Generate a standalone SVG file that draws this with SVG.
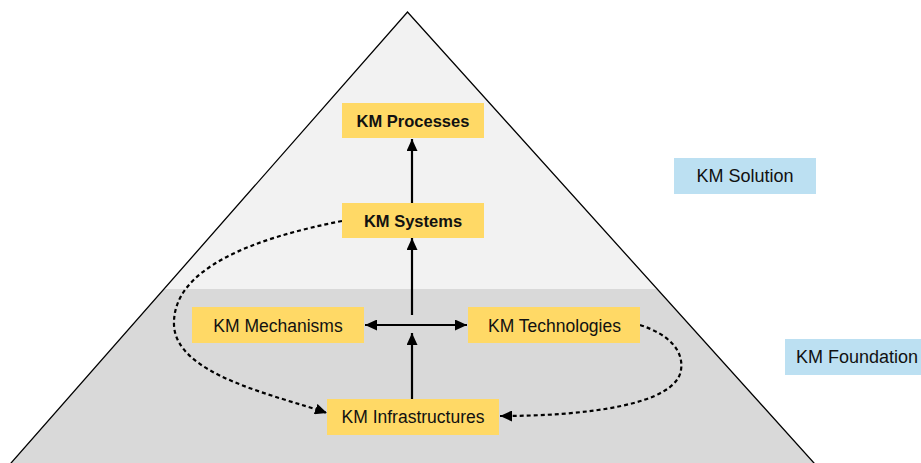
<svg xmlns="http://www.w3.org/2000/svg" width="921" height="463" viewBox="0 0 921 463">
<style>
.y{fill:#ffd966}
.b{fill:#bce0f2}
.t{font-family:"Liberation Sans",Arial,sans-serif;font-size:17.5px;fill:#111;text-anchor:middle}
.tb{font-family:"Liberation Sans",Arial,sans-serif;font-size:16.5px;font-weight:bold;fill:#111;text-anchor:middle}
.tl{font-family:"Liberation Sans",Arial,sans-serif;font-size:18px;fill:#111;text-anchor:middle}
.s{fill:none;stroke:#000;stroke-width:2.2}
.d{fill:none;stroke:#000;stroke-width:2.2;stroke-dasharray:4 3}
</style>
<defs>
<marker id="ah" viewBox="0 0 12 11" refX="12" refY="5.5" markerWidth="12" markerHeight="11" markerUnits="userSpaceOnUse" orient="auto-start-reverse">
<path d="M0,0 L12,5.5 L0,11 Z" fill="#000"/>
</marker>
</defs>
<rect width="921" height="463" fill="#fff"/>
<g id="pyramid">
<polygon points="407.5,12 164,289 657.2,289" fill="#f2f2f2"/>
<polygon points="164,289 657.2,289 820.3,470 4.9,470" fill="#d9d9d9"/>
<polyline points="4.9,470 407.5,12 820.3,470" fill="none" stroke="#000" stroke-width="1.3"/>
</g>
<g id="connectors">
<line class="s" x1="412" y1="203" x2="412" y2="139" marker-end="url(#ah)"/>
<line class="s" x1="412" y1="315" x2="412" y2="238" marker-end="url(#ah)"/>
<line class="s" x1="365" y1="325" x2="467" y2="325" marker-start="url(#ah)" marker-end="url(#ah)"/>
<line class="s" x1="412" y1="399" x2="412" y2="333" marker-end="url(#ah)"/>
<path class="d" d="M342,221 C255,238 172,268 174,325 C176,375 275,395 327,413" marker-end="url(#ah)"/>
<path class="d" d="M640,325 C668,334 684,350 681,370 C676,405 585,416 500,416" marker-end="url(#ah)"/>
</g>
<g id="km-processes">
<rect class="y" x="342" y="103" width="142" height="35"/>
<text class="tb" x="413" y="126.5">KM Processes</text>
</g>
<g id="km-systems">
<rect class="y" x="342" y="203" width="142" height="35"/>
<text class="tb" x="413" y="226.5">KM Systems</text>
</g>
<g id="km-mechanisms">
<rect class="y" x="192" y="307" width="172" height="36"/>
<text class="t" x="278" y="331.5">KM Mechanisms</text>
</g>
<g id="km-technologies">
<rect class="y" x="468" y="307" width="172" height="36"/>
<text class="t" x="554.5" y="331.5">KM Technologies</text>
</g>
<g id="km-infrastructures">
<rect class="y" x="327" y="399" width="172" height="36"/>
<text class="t" x="413" y="422.5">KM Infrastructures</text>
</g>
<g id="km-solution">
<rect class="b" x="674" y="158" width="142" height="36"/>
<text class="tl" x="745" y="182">KM Solution</text>
</g>
<g id="km-foundation">
<rect class="b" x="785" y="339" width="142" height="36"/>
<text class="tl" x="857" y="363">KM Foundation</text>
</g>
</svg>
